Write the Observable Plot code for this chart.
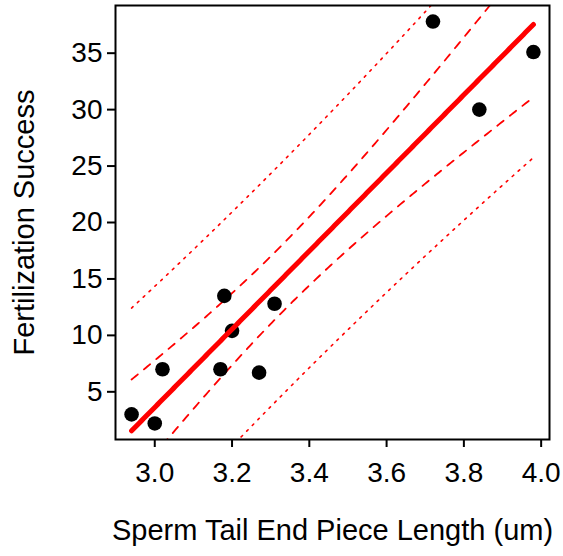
<!DOCTYPE html>
<html>
<head>
<meta charset="utf-8">
<script src="https://cdn.jsdelivr.net/npm/d3@7"></script>
<script src="https://cdn.jsdelivr.net/npm/@observablehq/plot@0.6"></script>
<style>
  html, body { margin: 0; padding: 0; background: #fff; }
  #chart svg { display: block; }
</style>
</head>
<body>
<div id="chart"></div>
<script>
// Data
const tailLength = [2.94, 3.00, 3.02, 3.17, 3.18, 3.20, 3.27, 3.31, 3.72, 3.84, 3.98];
const fertSuccess = [3.0, 2.2, 7.0, 7.0, 13.5, 10.4, 6.7, 12.8, 37.8, 30.0, 35.1];
const xTicks = [3.0, 3.2, 3.4, 3.6, 3.8, 4.0];
const yTicks = [5, 10, 15, 20, 25, 30, 35];
const xTitle = "Sperm Tail End Piece Length (um)";
const yTitle = "Fertilization Success";
const tCrit = 2.262157; // t(0.975, df = 9)

// Points table
const pts = tailLength.map((x, i) => ({x, y: fertSuccess[i]}));

// Ordinary least squares fit with confidence and prediction intervals
const n = pts.length;
const mx = d3.mean(tailLength), my = d3.mean(fertSuccess);
const sxx = d3.sum(tailLength, x => (x - mx) ** 2);
const sxy = d3.sum(pts, d => (d.x - mx) * (d.y - my));
const slope = sxy / sxx, intercept = my - slope * mx;
const sse = d3.sum(pts, d => (d.y - (intercept + slope * d.x)) ** 2);
const s = Math.sqrt(sse / (n - 2));
const [xmin, xmax] = d3.extent(tailLength);
const [ymin, ymax] = d3.extent(fertSuccess);
const grid = d3.range(0, 201).map(i => xmin + (xmax - xmin) * i / 200);
const band = grid.map(x => {
  const fit = intercept + slope * x;
  const h = (x - mx) ** 2 / sxx;
  const ci = tCrit * s * Math.sqrt(1 / n + h);
  const pi = tCrit * s * Math.sqrt(1 + 1 / n + h);
  return {x, fit, cLo: fit - ci, cHi: fit + ci, pLo: fit - pi, pHi: fit + pi};
});

const xr = xmax - xmin, yr = ymax - ymin;
const font = "'Liberation Sans', Arial, Helvetica, sans-serif";

const chart = Plot.plot({
  width: 563,
  height: 556,
  marginLeft: 115,
  marginRight: 14,
  marginTop: 5,
  marginBottom: 117,
  style: {fontFamily: font, fontSize: "28px", color: "#000", background: "#fff"},
  x: {domain: [xmin - 0.04 * xr, xmax + 0.04 * xr]},
  y: {domain: [ymin - 0.04 * yr, ymax + 0.04 * yr]},
  marks: [
    Plot.lineY(band, {x: "x", y: "pHi", stroke: "#ff0000", strokeWidth: 1.6, strokeDasharray: "2,6", clip: true}),
    Plot.lineY(band, {x: "x", y: "pLo", stroke: "#ff0000", strokeWidth: 1.6, strokeDasharray: "2,6", clip: true}),
    Plot.lineY(band, {x: "x", y: "cHi", stroke: "#ff0000", strokeWidth: 1.8, strokeDasharray: "8,8", clip: true}),
    Plot.lineY(band, {x: "x", y: "cLo", stroke: "#ff0000", strokeWidth: 1.8, strokeDasharray: "8,8", clip: true}),
    Plot.dot(pts, {x: "x", y: "y", r: 7.3, fill: "#000", stroke: "none"}),
    Plot.lineY(band, {x: "x", y: "fit", stroke: "#ff0000", strokeWidth: 5, strokeLinecap: "round", clip: true}),
    Plot.axisX(xTicks, {tickSize: 8, tickPadding: 15, strokeWidth: 2, tickFormat: d3.format(".1f"), label: null}),
    Plot.axisY(yTicks, {tickSize: 8, tickPadding: 5, strokeWidth: 2, label: null}),
    Plot.frame({stroke: "#000", strokeWidth: 2}),
    Plot.text([xTitle], {frameAnchor: "bottom", textAnchor: "middle", lineAnchor: "middle", dy: 91.5, fontSize: 29, fill: "#000"}),
    Plot.text([yTitle], {frameAnchor: "left", textAnchor: "middle", lineAnchor: "middle", dx: -91, rotate: -90, fontSize: 29, fill: "#000"})
  ]
});
document.getElementById("chart").appendChild(chart);
</script>
</body>
</html>
